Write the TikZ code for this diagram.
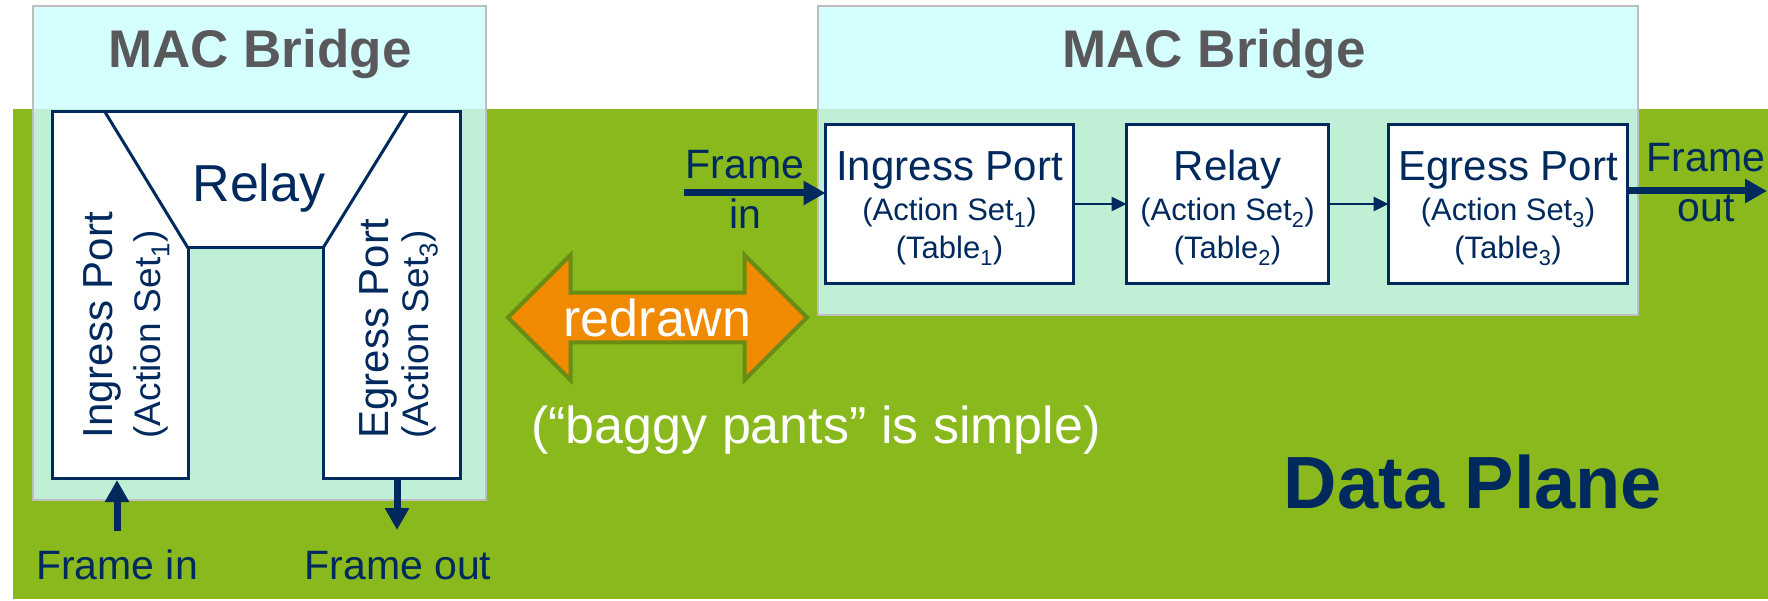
\documentclass[tikz,border=0pt]{standalone}
\usepackage{fontspec}
\setmainfont{Liberation Sans}
\usepackage{tikz}
\usetikzlibrary{shapes,arrows,arrows.meta,positioning,calc}
\definecolor{dpgreen}{RGB}{137,185,29}
\definecolor{brcyan}{RGB}{213,255,255}
\definecolor{brmint}{RGB}{191,240,213}
\definecolor{brgray}{RGB}{190,190,190}
\definecolor{navy}{RGB}{0,41,94}
\definecolor{titlegray}{RGB}{89,89,91}
\definecolor{arrorange}{RGB}{240,138,0}
\definecolor{arrolive}{RGB}{107,140,20}
\newcommand{\fsz}[2]{\fontsize{#1}{#2}\selectfont}
\tikzstyle{plane} = [rectangle, fill=dpgreen, inner sep=0, outer sep=0, anchor=north west]
\tikzstyle{bridge} = [rectangle, fill=brcyan, inner sep=0, outer sep=0, anchor=north west]
\tikzstyle{portbox} = [rectangle, draw=navy, fill=white, line width=3pt, text=navy, align=center, minimum height=159pt, inner sep=0, outer sep=0, font=\fsz{31}{38}]
\tikzstyle{title} = [text=titlegray, font=\fsz{53}{60}\bfseries, anchor=base]
\tikzstyle{lbl} = [text=navy, font=\fsz{41}{50}]
\tikzstyle{line} = [draw=navy, line width=2.5pt, -{Triangle[length=15pt,width=14pt]}]
\tikzstyle{fat} = [draw=navy, line width=7pt, -{Triangle[length=22pt,width=23pt]}]
\tikzstyle{redrawarrow} = [double arrow, fill=arrorange, draw=arrolive, line width=4pt, double arrow head extend=32pt, minimum width=125pt, minimum height=299pt, inner sep=0, text=white, font=\fsz{52}{60}]

\begin{document}
\begin{tikzpicture}[x=1pt, y=-1pt]
		\useasboundingbox (0,0) rectangle (1768,601);
		% Backgrounds
		\node[plane, minimum width=1755pt, minimum height=490pt] (dp) at (13,109) {};
		\node[bridge, minimum width=453pt, minimum height=494pt] (lbr) at (33,6) {};
		\node[bridge, minimum width=820pt, minimum height=309pt] (rbr) at (818,6) {};
		\fill[brmint] (lbr.south west) rectangle (lbr.east |- dp.north);
		\fill[brmint] (rbr.south west) rectangle (rbr.east |- dp.north);
		\draw[brgray, line width=2pt] (lbr.south west) rectangle (lbr.north east);
		\draw[brgray, line width=2pt] (rbr.south west) rectangle (rbr.north east);
		\node[title] (lmac) at (260,68) {MAC Bridge};
		\node[title] (rmac) at (1214,68) {MAC Bridge};
		
		% Left bridge ("baggy pants")
		\draw[navy, line width=3pt, fill=white] (52,112) -- (460,112) -- (460,478) -- (323,478) -- (323,248) -- (188,248) -- (188,478) -- (52,478) -- cycle;
		\draw[navy, line width=3pt] (105,112) -- (188,248) (407,112) -- (323,248);
		\node[lbl, font=\fsz{52}{60}, anchor=base] (lrel) at (259,202) {Relay};
		\node[lbl, font=\fsz{42}{50}, rotate=90, anchor=base west] (ling) at (112,442) {Ingress Port};
		\node[lbl, font=\fsz{37}{44}, rotate=90, anchor=base west] (lingset) at (160,442) {(Action Set\textsubscript{1})};
		\node[lbl, font=\fsz{42}{50}, rotate=90, anchor=base west] (legr) at (388,442) {Egress Port};
		\node[lbl, font=\fsz{37}{44}, rotate=90, anchor=base west] (legrset) at (428,442) {(Action Set\textsubscript{3})};
		\coordinate (linleg) at (117,480);
		\coordinate (loutleg) at (397,478);
		\node[lbl, anchor=base] (lfin) at (117,579) {Frame in};
		\node[lbl, anchor=base] (lfout) at (398,579) {Frame out};
		\path [fat] (linleg |- 0,531) -- (linleg);
		\path [fat] (loutleg) -- (loutleg |- 0,530);
		
		% Right bridge
		\node[portbox, minimum width=248pt] (ing) at (949.5,204) {{\fsz{42}{50}\rule{0pt}{38pt}Ingress Port}\\[2pt](Action Set\textsubscript{1})\\(Table\textsubscript{1})};
		\node[portbox, minimum width=202pt, right=53pt of ing] (rel) {{\fsz{42}{50}\rule{0pt}{38pt}Relay}\\[2pt](Action Set\textsubscript{2})\\(Table\textsubscript{2})};
		\node[portbox, minimum width=239pt, right=60pt of rel] (egr) {{\fsz{42}{50}\rule{0pt}{38pt}Egress Port}\\[2pt](Action Set\textsubscript{3})\\(Table\textsubscript{3})};
		\coordinate (rinstart) at (684,193);
		\coordinate (routend) at (1767,191);
		\node[lbl, align=center] (rfin) at (745,189) {Frame\\in};
		\node[lbl, align=center] (rfout) at (1706,183) {Frame\\out};
		\path [fat] (rinstart) -- (rinstart -| ing.west);
		\path [line] (ing) -- (rel);
		\path [line] (rel) -- (egr);
		\path [fat] (egr.east |- routend) -- (routend);
		
		% Middle
		\node[redrawarrow] (redr) at (657.5,317.5) {redrawn};
		\node[text=white, font=\fsz{52}{60}, anchor=base] (baggy) at (816,443) {(“baggy pants” is simple)};
		\node[text=navy, font=\fsz{74}{80}\bfseries, anchor=base] (dplane) at (1473,508) {Data Plane};
		
	\end{tikzpicture}
\end{document}
